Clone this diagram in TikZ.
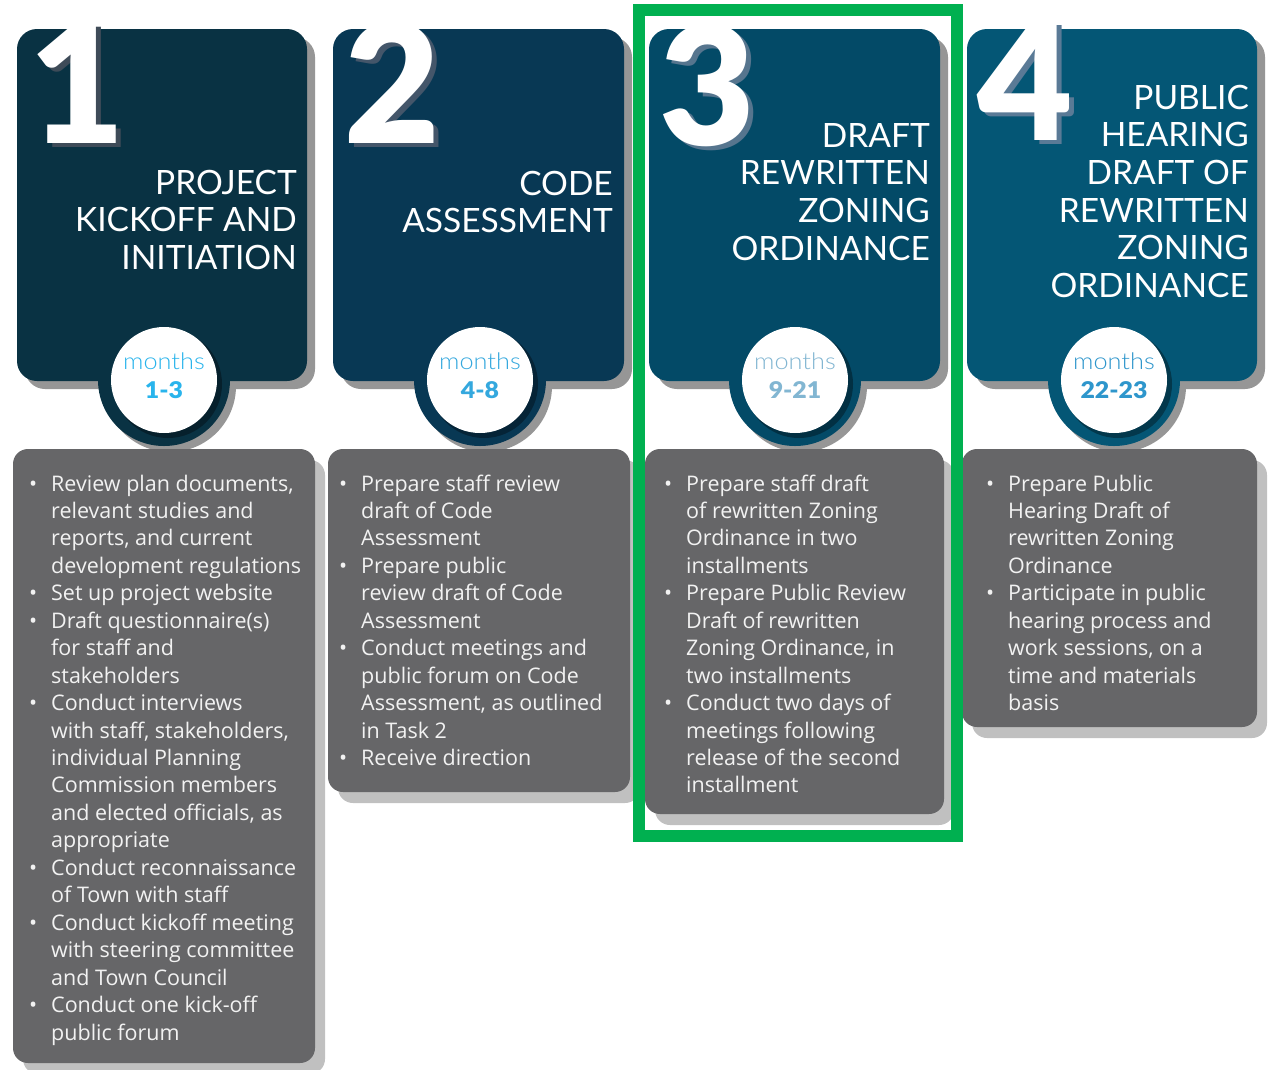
\documentclass[tikz,border=0pt]{standalone}
\usepackage{fontspec}
\setmainfont{Open Sans}
\newfontfamily\latofont{Lato}
\newfontfamily\latoblack{Lato Black}
\newfontfamily\latolight{Lato Light}
\definecolor{pA}{RGB}{9,50,67}
\definecolor{pB}{RGB}{8,56,84}
\definecolor{pC}{RGB}{3,74,103}
\definecolor{pD}{RGB}{4,86,117}
\definecolor{nsA}{RGB}{62,75,88}
\definecolor{nsB}{RGB}{68,86,106}
\definecolor{nsC}{RGB}{86,117,142}
\definecolor{nsD}{RGB}{90,122,150}
\definecolor{mA}{RGB}{41,180,236}
\definecolor{mB}{RGB}{52,168,222}
\definecolor{mC}{RGB}{130,182,210}
\definecolor{mD}{RGB}{46,150,204}
\definecolor{shdark}{RGB}{150,150,150}
\definecolor{shlight}{RGB}{192,192,192}
\definecolor{boxgray}{RGB}{102,102,104}
\definecolor{txtc}{RGB}{242,242,242}
\definecolor{grn}{RGB}{0,176,80}
\newcommand\bi{\makebox[22pt][l]{\textbullet}}
\newcommand\ci{\hspace*{22pt}}
\tikzset{
  darkbox/.style={rounded corners=20pt},
  graybox/.style={fill=boxgray, rounded corners=15pt},
  titletext/.style={anchor=base east, inner sep=0pt, text=white, font=\latofont\fontsize{33.5}{37.7}\selectfont},
  bignum/.style={anchor=base, inner sep=0pt, font=\latoblack\fontsize{165}{165}\selectfont},
  bultext/.style={anchor=base west, inner sep=0pt, text=txtc, font=\fontsize{21.5}{27.45}\selectfont},
  montext/.style={anchor=base, inner sep=0pt, font=\latolight\fontsize{23}{23}\selectfont},
  monnum/.style={anchor=base, inner sep=0pt, font=\latoblack\fontsize{23}{23}\selectfont},
}
\begin{document}
\begin{tikzpicture}[x=1pt,y=-1pt]
\useasboundingbox (0,0) rectangle (1281,1069);
\fill[white] (0,0) rectangle (1281,1069);

% ---------- shadows of dark panels ----------
\fill[shdark, darkbox] (25,37) rectangle (315,389);
\fill[shdark] (170,386) circle[radius=66];
\fill[shdark, darkbox] (341,37) rectangle (632,389);
\fill[shdark] (486,386) circle[radius=66];
\fill[shdark, darkbox] (657,37) rectangle (948,389);
\fill[shdark] (801,386) circle[radius=66];
\fill[shdark, darkbox] (975,37) rectangle (1265,389);
\fill[shdark] (1120,386) circle[radius=66];

% ---------- dark panels ----------
\fill[pA, darkbox] (17,29) rectangle (307,381);
\fill[pA] (164,380) circle[radius=66];
\fill[pA!65!black] (168,384) circle[radius=54];
\fill[white] (164,380) circle[radius=53];

\fill[pB, darkbox] (333,29) rectangle (624,381);
\fill[pB] (480,380) circle[radius=66];
\fill[pB!65!black] (484,384) circle[radius=54];
\fill[white] (480,380) circle[radius=53];

\fill[pC, darkbox] (649,29) rectangle (940,381);
\fill[pC] (795,380) circle[radius=66];
\fill[pC!65!black] (799,384) circle[radius=54];
\fill[white] (795,380) circle[radius=53];

\fill[pD, darkbox] (967,29) rectangle (1257,381);
\fill[pD] (1114,380) circle[radius=66];
\fill[pD!65!black] (1118,384) circle[radius=54];
\fill[white] (1114,380) circle[radius=53];

% ---------- big numbers ----------
\begin{scope}
\clip (0,25) rectangle (1281,300);
\node[bignum, text=nsA] (n1s) at (82.5,147) {1};
\node[bignum, text=white] (n1) at (77.5,143) {1};
\node[bignum, text=nsB] (n2s) at (397.5,147) {2};
\node[bignum, text=white] (n2) at (392.5,143) {2};
\node[bignum, text=nsC] (n3s) at (712,149) {3};
\node[bignum, text=white] (n3) at (707,145) {3};
\node[bignum, text=nsD] (n4s) at (1030,144) {4};
\node[bignum, text=white] (n4) at (1025,140) {4};
\end{scope}

% ---------- titles ----------
\node[titletext] (t1) at (297,194) {\begin{tabular}[t]{@{}r@{}}PROJECT\\KICKOFF AND\\INITIATION\end{tabular}};
\node[titletext] (t2) at (613,195) {\begin{tabular}[t]{@{}r@{}}CODE\\ASSESSMENT\end{tabular}};
\node[titletext] (t3) at (930,147) {\begin{tabular}[t]{@{}r@{}}DRAFT\\REWRITTEN\\ZONING\\ORDINANCE\end{tabular}};
\node[titletext] (t4) at (1249,109) {\begin{tabular}[t]{@{}r@{}}PUBLIC\\HEARING\\DRAFT OF\\REWRITTEN\\ZONING\\ORDINANCE\end{tabular}};

% ---------- months ----------
\node[montext, text=mA] (m1) at (164,369) {\scalebox{1.1}[1]{months}};
\node[monnum, text=mA] (r1) at (164,398) {\scalebox{1.08}[1]{1-3}};
\node[montext, text=mB] (m2) at (480,369) {\scalebox{1.1}[1]{months}};
\node[monnum, text=mB] (r2) at (480,398) {\scalebox{1.08}[1]{4-8}};
\node[montext, text=mC] (m3) at (795,369) {\scalebox{1.1}[1]{months}};
\node[monnum, text=mC] (r3) at (795,398) {\scalebox{1.08}[1]{9-21}};
\node[montext, text=mD] (m4) at (1114,369) {\scalebox{1.1}[1]{months}};
\node[monnum, text=mD] (r4) at (1114,398) {\scalebox{1.08}[1]{22-23}};

% ---------- gray boxes ----------
\fill[shlight, rounded corners=15pt] (23,460) rectangle (325,1074);
\fill[shlight, rounded corners=15pt] (338,460) rectangle (640,803);
\fill[shlight, rounded corners=15pt] (655,460) rectangle (954,825);
\fill[shlight, rounded corners=15pt] (972,460) rectangle (1267,738);
\fill[graybox] (13,449) rectangle (315,1063);
\fill[graybox] (328,449) rectangle (630,792);
\fill[graybox] (645,449) rectangle (944,814);
\fill[graybox] (962,449) rectangle (1257,727);

% ---------- bullet texts ----------
\node[bultext] (b1) at (29,491) {\begin{tabular}[t]{@{}l@{}}
\bi Review plan documents,\\
\ci relevant studies and\\
\ci reports, and current\\
\ci development regulations\\
\bi Set up project website\\
\bi Draft questionnaire(s)\\
\ci for staff and\\
\ci stakeholders\\
\bi Conduct interviews\\
\ci with staff, stakeholders,\\
\ci individual Planning\\
\ci Commission members\\
\ci and elected officials, as\\
\ci appropriate\\
\bi Conduct reconnaissance\\
\ci of Town with staff\\
\bi Conduct kickoff meeting\\
\ci with steering committee\\
\ci and Town Council\\
\bi Conduct one kick-off\\
\ci public forum
\end{tabular}};

\node[bultext] (b2) at (339,491) {\begin{tabular}[t]{@{}l@{}}
\bi Prepare staff review\\
\ci draft of Code\\
\ci Assessment\\
\bi Prepare public\\
\ci review draft of Code\\
\ci Assessment\\
\bi Conduct meetings and\\
\ci public forum on Code\\
\ci Assessment, as outlined\\
\ci in Task 2\\
\bi Receive direction
\end{tabular}};

\node[bultext] (b3) at (664,491) {\begin{tabular}[t]{@{}l@{}}
\bi Prepare staff draft\\
\ci of rewritten Zoning\\
\ci Ordinance in two\\
\ci installments\\
\bi Prepare Public Review\\
\ci Draft of rewritten\\
\ci Zoning Ordinance, in\\
\ci two installments\\
\bi Conduct two days of\\
\ci meetings following\\
\ci release of the second\\
\ci installment
\end{tabular}};

\node[bultext] (b4) at (986,491) {\begin{tabular}[t]{@{}l@{}}
\bi Prepare Public\\
\ci Hearing Draft of\\
\ci rewritten Zoning\\
\ci Ordinance\\
\bi Participate in public\\
\ci hearing process and\\
\ci work sessions, on a\\
\ci time and materials\\
\ci basis
\end{tabular}};

% ---------- highlight frame ----------
\draw[grn, line width=12pt] (639,10) rectangle (956.5,835.5);
\end{tikzpicture}
\end{document}
